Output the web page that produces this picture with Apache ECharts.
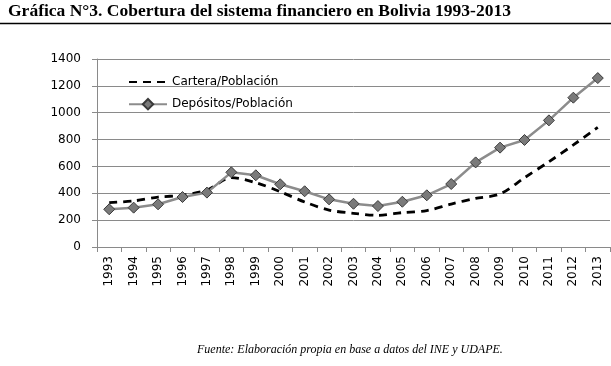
<!DOCTYPE html>
<html><head><meta charset="utf-8">
<script src="https://cdn.jsdelivr.net/npm/echarts@6/dist/echarts.min.js"></script>
<style>html,body{margin:0;padding:0;background:#fff}#c{width:611px;height:366px}</style>
</head><body><div id="c"></div>
<script>
const years = ['1993','1994','1995','1996','1997','1998','1999','2000','2001','2002','2003','2004','2005','2006','2007','2008','2009','2010','2011','2012','2013'];
const cartera = [330,343,372,385,424,516,479,412,335,275,251,236,256,271,320,362,395,516,635,760,891];
const depositos = [281,293,318,372,405,556,534,467,415,355,322,305,337,385,469,630,740,797,943,1112,1258];
const yTicks = [0,200,400,600,800,1000,1200,1400];

const chart = echarts.init(document.getElementById('c'));
chart.setOption({
  animation:false,
  graphic:[
    {type:'text',left:8,top:2,style:{text:'Gráfica N°3. Cobertura del sistema financiero en Bolivia 1993-2013',font:'bold 17.5px "Liberation Serif", serif',fill:'#000'}},
    {type:'line',shape:{x1:0,y1:23.5,x2:611,y2:23.5},style:{stroke:'#000',lineWidth:1.5}},
    {type:'text',left:197,top:344,style:{text:'Fuente: Elaboración propia en base a datos del INE y UDAPE.',font:'italic 12px "Liberation Serif", serif',fill:'#000'}}
  ],
  grid:{left:97,right:1,top:59,bottom:119},
  legend:{
    orient:'vertical',left:123,top:71,itemWidth:38,itemHeight:13,itemGap:10,
    textStyle:{fontFamily:'DejaVu Sans',fontSize:12,color:'#000'},
    data:[{name:'Cartera/Población',itemStyle:{opacity:0}},{name:'Depósitos/Población'}]
  },
  xAxis:{
    type:'category',data:years,boundaryGap:true,
    axisLine:{lineStyle:{color:'#8a8a8a',width:1}},
    axisTick:{show:true,alignWithLabel:false,length:5,lineStyle:{color:'#8a8a8a'}},
    axisLabel:{rotate:90,fontFamily:'DejaVu Sans',fontSize:12,color:'#000',margin:9,interval:0}
  },
  yAxis:{
    type:'value',min:0,max:1400,interval:200,
    axisLine:{show:true,lineStyle:{color:'#8a8a8a'}},
    axisTick:{show:true,length:5,lineStyle:{color:'#8a8a8a'}},
    splitLine:{lineStyle:{color:'#8a8a8a',width:1}},
    axisLabel:{fontFamily:'DejaVu Sans',fontSize:12,color:'#000',margin:16,
      formatter:v=>yTicks.includes(v)?String(v):''}
  },
  series:[
    {name:'Cartera/Población',type:'line',data:cartera,smooth:0.3,symbol:'none',
      lineStyle:{color:'#000',width:2.8,type:[8,6]},itemStyle:{color:'#000'}},
    {name:'Depósitos/Población',type:'line',data:depositos,symbol:'diamond',symbolSize:11,
      lineStyle:{color:'#8c8c8c',width:2.5},
      itemStyle:{color:'#7a7a7a',borderColor:'#3a3a3a',borderWidth:1}}
  ]
});
</script></body></html>
